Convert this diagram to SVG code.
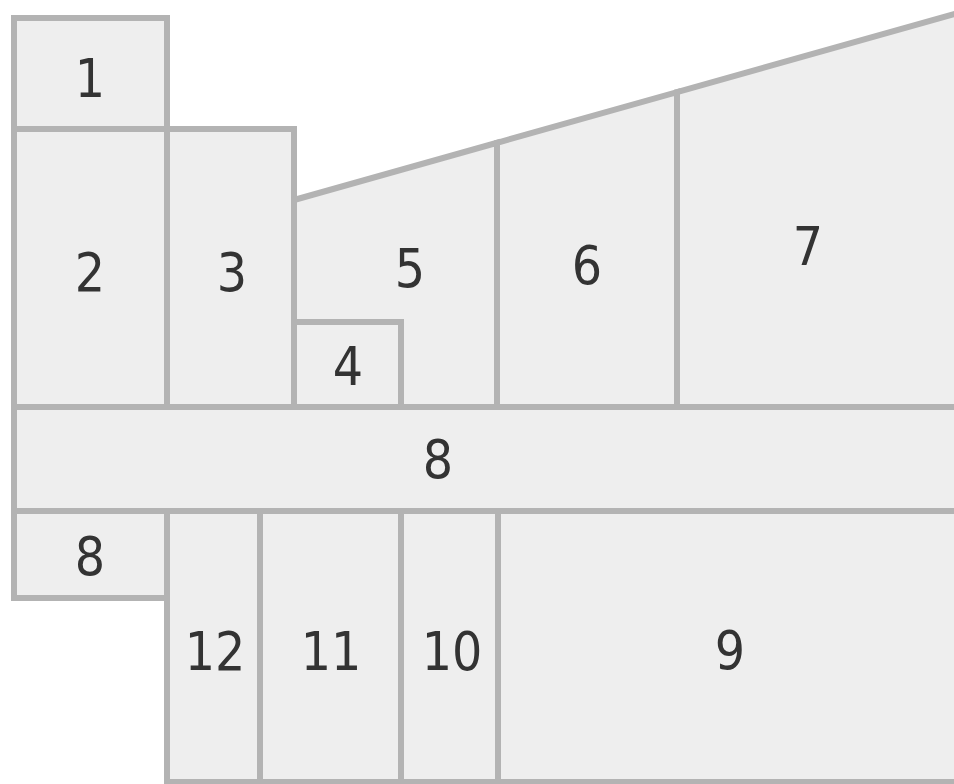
<svg xmlns="http://www.w3.org/2000/svg" width="954" height="784" viewBox="0 0 954 784">
<style>
.room{fill:#eeeeee;stroke:#b3b3b3;stroke-width:6;stroke-linejoin:miter}
.lbl{font-family:"DejaVu Sans","Noto Sans",sans-serif;font-stretch:condensed;font-size:53px;fill:#333333;text-anchor:middle}
</style>
<rect width="954" height="784" fill="#ffffff"/>
<g id="room1"><rect class="room" x="14" y="18" width="153" height="111"/><text class="lbl" x="90" y="97">1</text></g>
<g id="room2"><rect class="room" x="14" y="129" width="153" height="278"/><text class="lbl" x="90" y="291">2</text></g>
<g id="room3"><rect class="room" x="167" y="129" width="127" height="278"/><text class="lbl" x="232" y="291">3</text></g>
<g id="room5"><polygon class="room" points="294,200 497,142.8 497,407 401,407 401,322 294,322"/><text class="lbl" x="410" y="287">5</text></g>
<g id="room4"><rect class="room" x="294" y="322" width="107" height="85"/><text class="lbl" x="348" y="385">4</text></g>
<g id="room6"><polygon class="room" points="497,142.8 677,92.1 677,407 497,407"/><text class="lbl" x="587" y="284">6</text></g>
<g id="room7"><polygon class="room" points="677,92.1 962,11.8 962,407 677,407"/><text class="lbl" x="808" y="265">7</text></g>
<g id="room8"><rect class="room" x="14" y="407" width="948" height="104"/><text class="lbl" x="438" y="478">8</text></g>
<g id="room8b"><rect class="room" x="14" y="511" width="153" height="87"/><text class="lbl" x="90" y="575">8</text></g>
<g id="room12"><rect class="room" x="167" y="511" width="93" height="271"/><text class="lbl" x="215" y="670">12</text></g>
<g id="room11"><rect class="room" x="260" y="511" width="141" height="271"/><text class="lbl" x="331" y="670">11</text></g>
<g id="room10"><rect class="room" x="401" y="511" width="97" height="271"/><text class="lbl" x="452" y="670">10</text></g>
<g id="room9"><rect class="room" x="498" y="511" width="464" height="271"/><text class="lbl" x="730" y="669">9</text></g>
<g id="connectors"></g>
</svg>
